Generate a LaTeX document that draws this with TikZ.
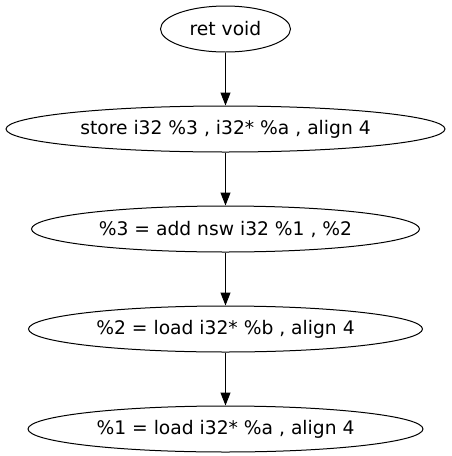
\documentclass[tikz,border=0pt]{standalone}
\usepackage{fontspec}
\setmainfont{DejaVu Sans}
\usetikzlibrary{arrows.meta, positioning, shapes.geometric}

\begin{document}
\begin{tikzpicture}[
    x=1pt, y=-1pt,
    instr/.style={
      ellipse, draw=black, line width=1pt, inner sep=0pt,
      minimum height=46pt, font=\fontsize{18.7}{22}\selectfont
    },
    flow/.style={-{Triangle[length=13pt, width=10pt]}, line width=1pt, color=black},
    node distance=53pt
  ]
    \useasboundingbox (0,0) rectangle (451,456);
    \node[instr, minimum width=130pt] (ret) at (225.5,29) {ret void};
    \node[instr, minimum width=439pt, below=of ret] (store) {store i32 \%3 , i32* \%a , align 4};
    \node[instr, minimum width=388pt, below=of store] (add) {\%3 = add nsw i32 \%1 , \%2};
    \node[instr, minimum width=394pt, below=of add] (loadb) {\%2 = load i32* \%b , align 4};
    \node[instr, minimum width=395pt, below=of loadb] (loada) {\%1 = load i32* \%a , align 4};

    \draw[flow] (ret) -- (store);
    \draw[flow] (store) -- (add);
    \draw[flow] (add) -- (loadb);
    \draw[flow] (loadb) -- (loada);
\end{tikzpicture}
\end{document}
